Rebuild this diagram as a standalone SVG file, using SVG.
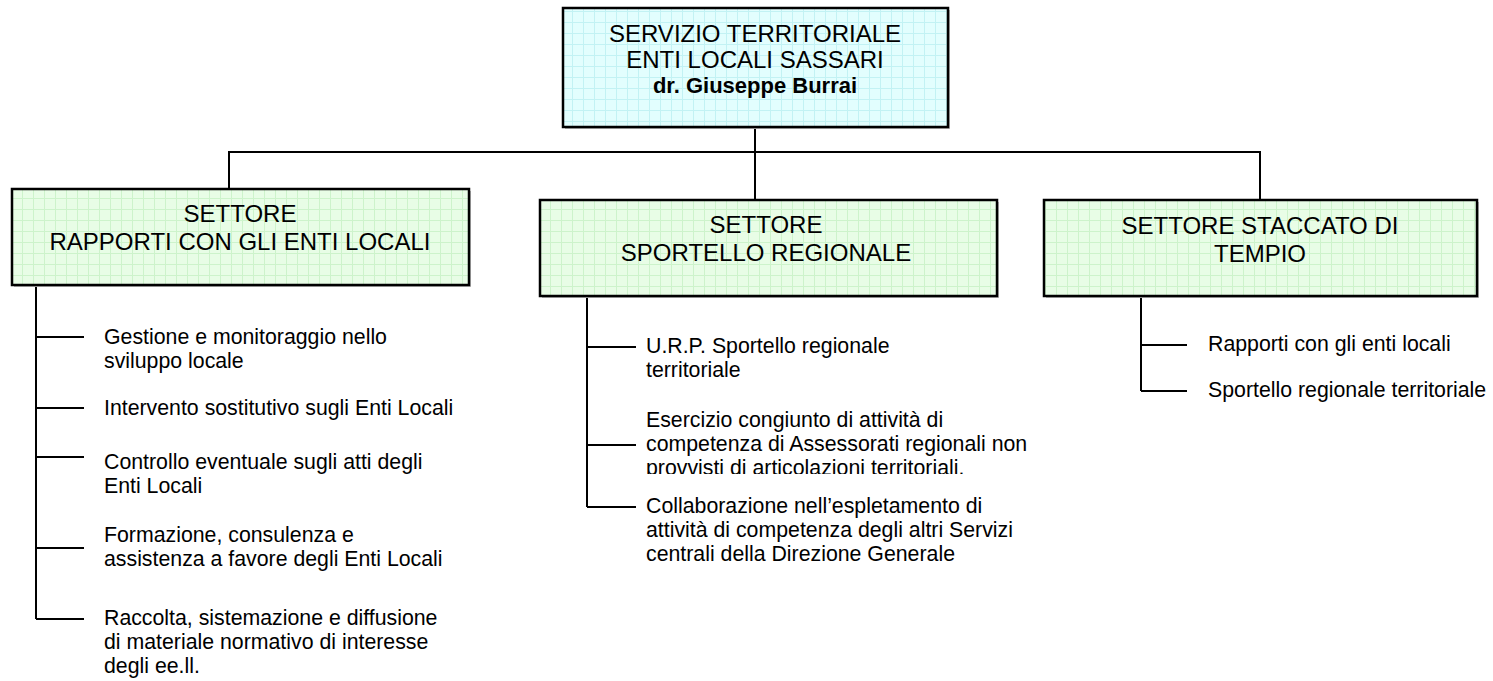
<svg xmlns="http://www.w3.org/2000/svg" width="1493" height="681" viewBox="0 0 1493 681">
<style>
.box{stroke:#000;stroke-width:2.5}
.title{font-family:"Liberation Sans",Arial,sans-serif;font-size:24px;fill:#000;text-anchor:middle}
.bold{font-family:"Liberation Sans",Arial,sans-serif;font-size:22px;font-weight:bold;fill:#000;text-anchor:middle}
.item{font-family:"Liberation Sans",Arial,sans-serif;font-size:21.3px;fill:#000}
.ln{stroke:#000;stroke-width:2;fill:none}
</style>
<defs>
<pattern id="gGreen" width="11" height="11" patternUnits="userSpaceOnUse">
<rect width="11" height="11" fill="#E8FDE6"/>
<path d="M0 0.5H11M0.5 0V11" stroke="#CDF3CB" stroke-width="1"/>
</pattern>
<pattern id="gCyan" width="11" height="11" patternUnits="userSpaceOnUse">
<rect width="11" height="11" fill="#E2FEFE"/>
<path d="M0 0.5H11M0.5 0V11" stroke="#C2F2F4" stroke-width="1"/>
</pattern>
<clipPath id="clipProv"><rect x="630" y="380" width="420" height="94"/></clipPath>
</defs>

<g id="connectors">
<path class="ln" d="M755 127V200M229 189V152H1260V200"/>
<path class="ln" d="M36 285V619M36 337H84M36 408H84M36 457H84M36 548H84M36 619H84"/>
<path class="ln" d="M587 296V507M587 347H636M587 445H636M587 507H636"/>
<path class="ln" d="M1141 297V391M1141 345H1187M1141 391H1187"/>
</g>

<g id="node-servizio">
<rect x="565" y="10" width="385" height="119" fill="#bbb"/>
<rect class="box" x="563" y="8" width="385" height="119" fill="url(#gCyan)"/>
<text class="title" x="755" y="42">SERVIZIO TERRITORIALE</text>
<text class="title" x="755" y="68">ENTI LOCALI SASSARI</text>
<text class="bold" x="755" y="93">dr. Giuseppe Burrai</text>
</g>

<g id="node-rapporti">
<rect x="14" y="191" width="457" height="96" fill="#bbb"/>
<rect class="box" x="12" y="189" width="457" height="96" fill="url(#gGreen)"/>
<text class="title" x="240" y="222">SETTORE</text>
<text class="title" x="240" y="250">RAPPORTI CON GLI ENTI LOCALI</text>
</g>

<g id="node-sportello">
<rect x="542" y="202" width="457" height="96" fill="#bbb"/>
<rect class="box" x="540" y="200" width="457" height="96" fill="url(#gGreen)"/>
<text class="title" x="766" y="233">SETTORE</text>
<text class="title" x="766" y="261">SPORTELLO REGIONALE</text>
</g>

<g id="node-tempio">
<rect x="1046" y="202" width="433" height="96" fill="#bbb"/>
<rect class="box" x="1044" y="200" width="433" height="96" fill="url(#gGreen)"/>
<text class="title" x="1260" y="234">SETTORE STACCATO DI</text>
<text class="title" x="1260" y="262">TEMPIO</text>
</g>

<g id="items-rapporti">
<text class="item" x="104" y="344">Gestione e monitoraggio nello</text>
<text class="item" x="104" y="368">sviluppo locale</text>
<text class="item" x="104" y="415">Intervento sostitutivo sugli Enti Locali</text>
<text class="item" x="104" y="469">Controllo eventuale sugli atti degli</text>
<text class="item" x="104" y="493">Enti Locali</text>
<text class="item" x="104" y="542">Formazione, consulenza e</text>
<text class="item" x="104" y="566">assistenza a favore degli Enti Locali</text>
<text class="item" x="104" y="625">Raccolta, sistemazione e diffusione</text>
<text class="item" x="104" y="649">di materiale normativo di interesse</text>
<text class="item" x="104" y="673">degli ee.ll.</text>
</g>

<g id="items-sportello">
<text class="item" x="646" y="353">U.R.P. Sportello regionale</text>
<text class="item" x="646" y="377">territoriale</text>
<text class="item" x="646" y="427">Esercizio congiunto di attività di</text>
<text class="item" x="646" y="451">competenza di Assessorati regionali non</text>
<text class="item" x="646" y="475" clip-path="url(#clipProv)">provvisti di articolazioni territoriali.</text>
<text class="item" x="646" y="513">Collaborazione nell’espletamento di</text>
<text class="item" x="646" y="537">attività di competenza degli altri Servizi</text>
<text class="item" x="646" y="561">centrali della Direzione Generale</text>
</g>

<g id="items-tempio">
<text class="item" x="1208" y="351">Rapporti con gli enti locali</text>
<text class="item" x="1208" y="397">Sportello regionale territoriale</text>
</g>
</svg>
